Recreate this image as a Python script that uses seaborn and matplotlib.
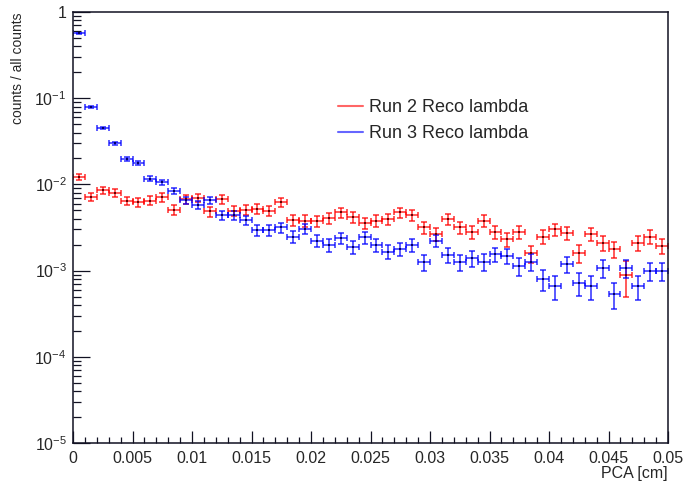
import numpy as np
import pandas as pd
import matplotlib
matplotlib.use("Agg")
import matplotlib.pyplot as plt
from matplotlib.lines import Line2D
from matplotlib.ticker import FixedLocator, FixedFormatter, LogLocator, NullFormatter, MultipleLocator
import seaborn as sns

# ---------------- data ----------------
bin_width = 0.001
n_bins = 50
x_min, x_max = 0.0, 0.05

run2_values = [0.0123, 0.0072, 0.0086, 0.0080, 0.00647, 0.0062, 0.0065, 0.0071, 0.00505, 0.0067,
               0.0070, 0.00488, 0.0067, 0.00495, 0.0051, 0.0052, 0.00495, 0.00625, 0.00386,
               0.0038, 0.00377, 0.00404, 0.00474, 0.00415, 0.00354, 0.0038, 0.00394, 0.00474,
               0.00442, 0.00318, 0.00266, 0.00397, 0.00318,
               0.00283, 0.0038, 0.00283, 0.00231, 0.00283, 0.00159, 0.00247, 0.00301, 0.00275,
               0.00161, 0.00266, 0.00211, 0.00177, 0.00089, 0.00211, 0.00247, 0.00195]
run2_errors = [1.0e-3, 7.7e-4, 8.5e-4, 8.2e-4, 7.3e-4, 7.2e-4, 7.4e-4, 7.7e-4, 6.5e-4, 7.5e-4,
               7.6e-4, 6.4e-4, 7.5e-4, 6.4e-4, 6.5e-4, 6.6e-4, 6.4e-4, 7.2e-4, 5.7e-4,
               5.6e-4, 5.6e-4, 5.8e-4, 6.3e-4, 5.9e-4, 5.4e-4, 5.6e-4, 5.7e-4, 6.3e-4,
               6.1e-4, 5.1e-4, 4.7e-4, 5.8e-4, 5.1e-4,
               4.9e-4, 5.6e-4, 4.9e-4, 4.4e-4, 4.9e-4, 3.6e-4, 4.5e-4, 5.0e-4, 4.8e-4,
               3.7e-4, 4.7e-4, 4.2e-4, 3.8e-4, 4.0e-4, 4.2e-4, 4.5e-4, 4.0e-4]

run3_values = [0.566, 0.0784, 0.0451, 0.030, 0.0199, 0.0176, 0.0117, 0.0106, 0.00837, 0.00659,
               0.00577, 0.00653, 0.00442, 0.0044, 0.00386, 0.00296, 0.00296, 0.00318, 0.00247,
               0.00306, 0.00222, 0.00198, 0.00239, 0.00189, 0.00243, 0.00198, 0.00166, 0.00178,
               0.00198, 0.00125, 0.00222, 0.00152, 0.00125,
               0.00139, 0.00127, 0.00155, 0.00148, 0.00113, 0.00127, 0.0008, 0.00066, 0.00119,
               0.00072, 0.00066, 0.00106, 0.00054, 0.00106, 0.00066, 0.001, 0.001]
run3_errors = [5.8e-3, 2.1e-3, 1.6e-3, 1.3e-3, 1.1e-3, 1.0e-3, 8.3e-4, 7.9e-4, 7.0e-4, 6.2e-4,
               5.8e-4, 6.2e-4, 5.1e-4, 5.1e-4, 4.8e-4, 4.2e-4, 4.2e-4, 4.3e-4, 3.8e-4,
               4.2e-4, 3.6e-4, 3.4e-4, 3.7e-4, 3.3e-4, 3.8e-4, 3.4e-4, 3.1e-4, 3.2e-4,
               3.4e-4, 2.7e-4, 3.6e-4, 3.0e-4, 2.7e-4,
               2.9e-4, 2.7e-4, 3.0e-4, 3.0e-4, 2.6e-4, 2.7e-4, 2.2e-4, 2.0e-4, 2.6e-4,
               2.1e-4, 2.0e-4, 2.5e-4, 1.8e-4, 2.5e-4, 2.0e-4, 2.4e-4, 2.4e-4]

series_labels = ["Run 2 Reco lambda", "Run 3 Reco lambda"]
series_colors = ["#ff0000", "#0000ff"]

x_ticks = [0, 0.005, 0.01, 0.015, 0.02, 0.025, 0.03, 0.035, 0.04, 0.045, 0.05]
x_tick_labels = ["0", "0.005", "0.01", "0.015", "0.02", "0.025", "0.03", "0.035", "0.04", "0.045", "0.05"]
y_ticks = [1e-5, 1e-4, 1e-3, 1e-2, 1e-1, 1]
y_tick_labels = [r"$\mathregular{10^{-5}}$", r"$\mathregular{10^{-4}}$", r"$\mathregular{10^{-3}}$",
                 r"$\mathregular{10^{-2}}$", r"$\mathregular{10^{-1}}$", "1"]
x_label = "PCA [cm]"
y_label = "counts / all counts"

# ---------------- build table ----------------
centers = x_min + bin_width * (np.arange(n_bins) + 0.5)
df = pd.concat([
    pd.DataFrame({"x": centers, "y": run2_values, "err": run2_errors, "series": series_labels[0]}),
    pd.DataFrame({"x": centers, "y": run3_values, "err": run3_errors, "series": series_labels[1]}),
], ignore_index=True)

# ---------------- style ----------------
sns.set_theme(style="white")
plt.rcParams["font.family"] = ["Liberation Sans", "DejaVu Sans"]
plt.rcParams["mathtext.fontset"] = "custom"
plt.rcParams["mathtext.rm"] = "Liberation Sans"
plt.rcParams["mathtext.it"] = "Liberation Sans:italic"
plt.rcParams["mathtext.bf"] = "Liberation Sans:bold"

W, H = 684, 487
fig = plt.figure(figsize=(W / 100, H / 100), dpi=100)
ax_l, ax_r, ax_t, ax_b = 73, 668, 12, 443
ax = fig.add_axes([ax_l / W, 1 - ax_b / H, (ax_r - ax_l) / W, (ax_b - ax_t) / H])

for (name, grp), col in zip(df.groupby("series", sort=False), series_colors):
    ax.errorbar(grp["x"], grp["y"], xerr=bin_width / 2, yerr=grp["err"], fmt="none",
                ecolor=col, elinewidth=1.4, capsize=2.4, capthick=1.4, alpha=0.65)

sns.scatterplot(data=df, x="x", y="y", hue="series", palette=["#660000", "#000066"],
                marker="s", s=2, linewidth=0, legend=False, ax=ax, zorder=3)

ax.set_yscale("log")
ax.set_xlim(x_min, x_max)
ax.set_ylim(1e-5, 1)

ax.xaxis.set_major_locator(FixedLocator(x_ticks))
ax.xaxis.set_major_formatter(FixedFormatter(x_tick_labels))
ax.xaxis.set_minor_locator(MultipleLocator(0.001))
ax.yaxis.set_major_locator(FixedLocator(y_ticks))
ax.yaxis.set_major_formatter(FixedFormatter(y_tick_labels))
ax.yaxis.set_minor_locator(LogLocator(base=10, subs=np.arange(2, 10), numticks=20))
ax.yaxis.set_minor_formatter(NullFormatter())

frame_col = "#111122"
for sp in ax.spines.values():
    sp.set_color(frame_col)
    sp.set_linewidth(1.1)

ax.tick_params(axis="x", which="major", direction="in", length=8.6, width=0.9,
               color=frame_col, labelsize=11.5, pad=5.5, bottom=True, top=False)
ax.tick_params(axis="x", which="minor", direction="in", length=4.3, width=0.9,
               color=frame_col, bottom=True, top=False)
ax.tick_params(axis="y", which="major", direction="in", length=12.2, width=0.9,
               color=frame_col, labelsize=11.5, pad=4.5, left=True, right=False)
ax.tick_params(axis="y", which="minor", direction="in", length=5.8, width=0.9,
               color=frame_col, left=True, right=False)

ax.set_xlabel(x_label, fontsize=11.5, loc="right")
ax.xaxis.set_label_coords(1.0, -(466 - ax_b) / (ax_b - ax_t))
ax.set_ylabel(y_label, fontsize=10, loc="top")
ax.yaxis.set_label_coords(-(ax_l - 25) / (ax_r - ax_l), 1.0)

handles = [Line2D([0], [0], color=c, lw=1.5, alpha=0.6) for c in series_colors]
fig.legend(handles, series_labels, loc="upper left",
           bbox_to_anchor=(338 / W, 1 - 99 / H), frameon=False, fontsize=13,
           handlelength=1.4, handletextpad=0.3, labelspacing=0.5,
           borderpad=0, borderaxespad=0)

fig.savefig("out.png", dpi=100)
